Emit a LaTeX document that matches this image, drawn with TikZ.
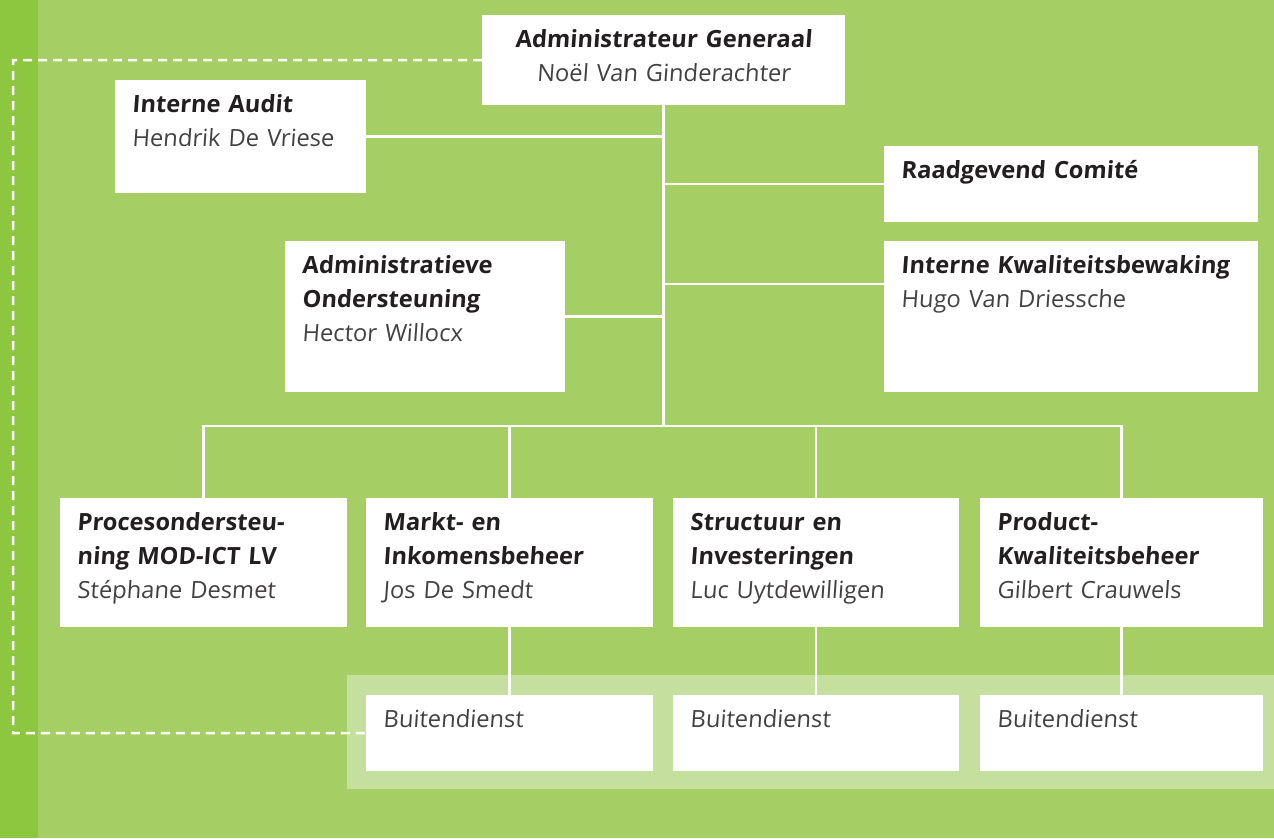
\documentclass[tikz,border=0pt]{standalone}
\usepackage{fontspec}
\setmainfont{Open Sans}[FakeSlant=0.07]
\usetikzlibrary{calc}
\definecolor{leaf}{HTML}{A5CF64}
\definecolor{stem}{HTML}{8DC63F}
\definecolor{pale}{HTML}{C5DF9E}
\definecolor{ink}{HTML}{231F20}
\newcommand{\who}[1]{{\color{ink!85}#1}}
\tikzset{
  unit/.style={fill=white, anchor=north west, inner xsep=17pt, inner ysep=0pt,
    align=left, text height=32pt, text=ink, font=\fontsize{23.7}{34}\selectfont},
  link/.style={draw=white, line width=2.5pt},
  loop/.style={draw=white, line width=2.5pt, dash pattern=on 9pt off 6pt}
}

\begin{document}
\begin{tikzpicture}[x=1pt, y=-1pt]
    % background
    \fill[leaf] (0,0) rectangle (1274,838);
    \fill[stem] (0,0) rectangle (38,838);
    \fill[pale] (347,675) rectangle (1274,789);

    \node[unit, align=center, text width=329pt, text depth=58pt] (ag) at (482,15) {\textbf{Administrateur Generaal}\\\who{Noël Van Ginderachter}};
    \node[unit, text width=217pt, text depth=81pt] (ia) at (115,80) {\textbf{Interne Audit}\\\who{Hendrik De Vriese}};
    \node[unit, text width=340pt, text depth=44pt] (rc) at (884,146) {\textbf{Raadgevend Comité}};
    \node[unit, text width=340pt, text depth=119pt] (ikb) at (884,241) {\textbf{Interne~Kwaliteitsbewaking}\\\who{Hugo Van Driessche}};
    \node[unit, text width=246pt, text depth=119pt] (ao) at (285,241) {\textbf{Administratieve}\\\textbf{Ondersteuning}\\\who{Hector Willocx}};

    \node[unit, text width=253pt, text depth=97pt] (p1) at (60,498) {\textbf{Procesondersteu-}\\\textbf{ning MOD-ICT LV}\\\who{Stéphane Desmet}};
    \node[unit, text width=253pt, text depth=97pt] (p2) at (366,498) {\textbf{Markt- en}\\\textbf{Inkomensbeheer}\\\who{Jos De Smedt}};
    \node[unit, text width=252pt, text depth=97pt] (p3) at (673,498) {\textbf{Structuur en}\\\textbf{Investeringen}\\\who{Luc Uytdewilligen}};
    \node[unit, text width=249pt, text depth=97pt] (p4) at (980,498) {\textbf{Product-}\\\textbf{Kwaliteitsbeheer}\\\who{Gilbert Crauwels}};

    \node[unit, text width=253pt, text depth=44pt] (bd2) at (366,695) {\who{Buitendienst}};
    \node[unit, text width=252pt, text depth=44pt] (bd3) at (673,695) {\who{Buitendienst}};
    \node[unit, text width=249pt, text depth=44pt] (bd4) at (980,695) {\who{Buitendienst}};

    \coordinate (bus) at (663,426);
    \coordinate (corner) at (13,60);

    % trunk
    \draw[link] (ag.south) -- (ag.south |- bus);
    % staff units
    \draw[link] (ia.east) -- (ia.east -| ag.south);
    \draw[link] (rc.west) -- (rc.west -| ag.south);
    \draw[link] ([yshift=-43pt]ikb.north west) -- ([yshift=-43pt]ikb.north west -| ag.south);
    \draw[link] (ao.east) -- (ao.east -| ag.south);
    % departments
    \draw[link] (p1.north) |- (bus) -| (p4.north);
    \draw[link] (p2.north) -- (p2.north |- bus);
    \draw[link] (p3.north) -- (p3.north |- bus);
    % outer services
    \draw[link] (p2.south) -- (bd2.north);
    \draw[link] (p3.south) -- (bd3.north);
    \draw[link] (p4.south) -- (bd4.north);
    % dashed line
    \draw[loop] (ag.west) -- (corner) |- (bd2.west);
\end{tikzpicture}
\end{document}
